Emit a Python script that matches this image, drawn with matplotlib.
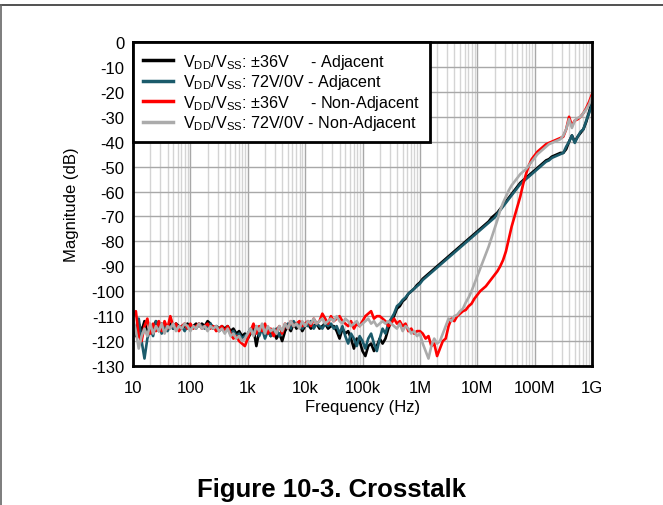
import matplotlib
matplotlib.use('Agg')
import matplotlib.pyplot as plt
from matplotlib.lines import Line2D
from matplotlib.ticker import LogLocator, NullFormatter

plt.rcParams['font.family'] = 'Liberation Sans'
plt.rcParams['mathtext.fontset'] = 'custom'
plt.rcParams['mathtext.rm'] = 'Liberation Sans'

# sweep points, log10(Hz)
log_freq = [
    1.00, 1.05, 1.10, 1.15, 1.20, 1.25, 1.30, 1.35, 1.40, 1.45,
    1.50, 1.55, 1.60, 1.65, 1.70, 1.75, 1.80, 1.85, 1.90, 1.95,
    2.00, 2.05, 2.10, 2.15, 2.20, 2.25, 2.30, 2.35, 2.40, 2.45,
    2.50, 2.55, 2.60, 2.65, 2.70, 2.75, 2.80, 2.85, 2.90, 2.95,
    3.00, 3.05, 3.10, 3.15, 3.20, 3.25, 3.30, 3.35, 3.40, 3.45,
    3.50, 3.55, 3.60, 3.65, 3.70, 3.75, 3.80, 3.85, 3.90, 3.95,
    4.00, 4.05, 4.10, 4.15, 4.20, 4.25, 4.30, 4.35, 4.40, 4.45,
    4.50, 4.55, 4.60, 4.65, 4.70, 4.75, 4.80, 4.85, 4.90, 4.95,
    5.00, 5.05, 5.10, 5.15, 5.20, 5.25, 5.30, 5.35, 5.40, 5.45,
    5.50, 5.55, 5.60, 5.65, 5.70, 5.75, 5.80, 5.85, 5.90, 5.95,
    6.00, 6.05, 6.10, 6.15, 6.20, 6.25, 6.30, 6.35, 6.40, 6.45,
    6.50, 6.55, 6.60, 6.65, 6.70, 6.75, 6.80, 6.85, 6.90, 6.95,
    7.00, 7.05, 7.10, 7.15, 7.20, 7.25, 7.30, 7.35, 7.40, 7.45,
    7.50, 7.55, 7.60, 7.65, 7.70, 7.75, 7.80, 7.85, 7.90, 7.95,
    8.00, 8.05, 8.10, 8.15, 8.20, 8.25, 8.30, 8.35, 8.40, 8.45,
    8.50, 8.55, 8.60, 8.65, 8.70, 8.75, 8.80, 8.85, 8.90, 8.95,
    9.00]

adj_36 = [
    -112, -118, -113, -116, -112, -117, -114, -115, -112, -116,
    -113, -115, -114, -113, -115, -113, -114, -115, -114, -113,
    -115, -114, -113, -114, -113, -114, -112, -113, -115, -114,
    -115, -114, -115, -114, -116, -115, -117, -116, -118, -117,
    -119, -117, -115, -122, -116, -114, -117, -115, -118, -116,
    -119, -117, -120, -116, -114, -116, -113, -115, -113, -116,
    -114, -113, -115, -114, -113, -115, -114, -113, -115, -114,
    -114, -116, -119, -115, -117, -116, -119, -123, -119, -120,
    -124, -126, -122, -121, -124, -122, -119, -121, -119, -115,
    -112, -110, -107, -106, -104, -103, -101, -100, -99, -97.5,
    -96.5, -95, -94, -93, -92, -91, -90, -89, -88, -87,
    -86, -85, -84, -83, -82, -81, -80, -79, -78, -77,
    -76, -75, -74, -73, -72, -70.5, -69.5, -68.5, -67, -65.5,
    -64, -62.5, -61, -59.5, -58, -56.5, -55.5, -54.5, -53.5, -52.5,
    -51.5, -50.5, -49.5, -48.5, -47.5, -47, -46, -45.5, -45, -44.5,
    -44.5, -43, -40, -37.5, -40, -38, -36.5, -35, -32, -28,
    -24]

adj_72 = [
    -112, -116, -111, -120, -127, -119, -115, -118, -112, -113,
    -117, -114, -116, -114, -115, -113, -115, -114, -116, -114,
    -115, -114, -115, -113, -114, -115, -114, -113, -115, -114,
    -116, -115, -116, -115, -117, -116, -118, -117, -119, -118,
    -117, -115, -117, -114, -118, -115, -119, -116, -118, -117,
    -115, -118, -116, -114, -113, -115, -112, -114, -113, -115,
    -113, -114, -112, -115, -113, -114, -115, -113, -114, -113,
    -115, -114, -117, -114, -118, -121, -117, -119, -122, -118,
    -120, -123, -119, -117, -121, -124, -119, -115, -117, -113,
    -111, -109, -106, -105, -103.5, -102.5, -101, -100, -99, -98,
    -97, -95.5, -94.5, -93.5, -92.5, -91.5, -90.5, -89.5, -88.5, -87.5,
    -86.5, -85.5, -84.5, -83.5, -82.5, -81.5, -80.5, -79.5, -78.5, -77.5,
    -76.5, -75.5, -74.5, -73.5, -72.5, -71.5, -70.5, -69, -67.5, -66,
    -64.5, -63, -61.5, -60, -58.5, -57, -56, -55, -54, -53,
    -52, -51, -50, -49, -48, -47.5, -46.5, -46, -45.5, -45,
    -44.5, -42, -40, -37.5, -40.5, -38, -36, -35, -31.5, -28.5,
    -25]

nonadj_36 = [
    -110, -108, -118, -120, -114, -111, -117, -113, -116, -112,
    -116, -112, -115, -110, -114, -113, -116, -114, -113, -115,
    -113, -115, -114, -113, -115, -114, -113, -115, -114, -116,
    -115, -114, -116, -114, -117, -119, -118, -120, -121, -122,
    -119, -116, -113, -117, -114, -116, -113, -117, -115, -118,
    -116, -114, -117, -113, -115, -112, -114, -113, -112, -114,
    -113, -112, -114, -111, -113, -112, -109, -111, -113, -110,
    -112, -111, -110, -112, -113, -114, -112, -115, -113, -114,
    -112, -110, -109, -108, -111, -110, -110, -111, -112, -114,
    -113, -111, -113, -112, -114, -113, -116, -115, -117, -116,
    -116, -117, -119, -118, -122, -121, -126, -123, -120, -119,
    -114, -111, -112, -110, -109, -108, -107.5, -106, -105, -103,
    -101.5, -100, -99, -98, -96.5, -95, -93.5, -92, -90, -87.5,
    -84, -79, -74, -70, -66, -62, -57, -53, -49.5, -47,
    -45.5, -44, -43, -42, -41, -40.5, -40, -39.5, -39, -38.5,
    -38, -35, -30, -33.5, -31.5, -31, -30, -28.5, -26.5, -24,
    -21]

nonadj_72 = [
    -111, -116, -123, -118, -115, -118, -113, -117, -114, -116,
    -113, -117, -114, -115, -113, -116, -114, -115, -113, -114,
    -116, -114, -115, -113, -115, -114, -116, -114, -115, -114,
    -116, -115, -117, -115, -118, -117, -119, -118, -120, -119,
    -117, -115, -118, -114, -116, -113, -117, -114, -116, -115,
    -117, -114, -116, -113, -115, -112, -114, -113, -115, -112,
    -114, -112, -113, -111, -113, -112, -111, -113, -112, -111,
    -112, -110, -112, -113, -111, -112, -114, -113, -112, -114,
    -113, -112, -111, -113, -112, -114, -113, -112, -113, -112,
    -113, -114, -115, -113, -116, -114, -115, -117, -116, -118,
    -117, -121, -124, -127, -122, -119, -121, -120, -117, -114,
    -111, -112, -110, -109.5, -108, -107, -104.5, -102.5, -100, -97,
    -94, -91, -88, -85, -82, -78.5, -75, -71.5, -67.5, -64.5,
    -62, -59.5, -57.5, -56, -54.5, -53, -52, -51, -49.5, -48,
    -46.5, -45, -44, -43, -42, -41, -40.5, -40, -39.5, -39,
    -37.5, -35, -31, -34.5, -31.5, -30.5, -30, -28.5, -27, -25,
    -22]

series = [
    (adj_36, '#000000', r'V$_{\mathregular{DD}}$/V$_{\mathregular{SS}}$: ±36V     - Adjacent'),
    (adj_72, '#1b5b6b', r'V$_{\mathregular{DD}}$/V$_{\mathregular{SS}}$: 72V/0V - Adjacent'),
    (nonadj_36, '#ff0000', r'V$_{\mathregular{DD}}$/V$_{\mathregular{SS}}$: ±36V     - Non-Adjacent'),
    (nonadj_72, '#ababab', r'V$_{\mathregular{DD}}$/V$_{\mathregular{SS}}$: 72V/0V - Non-Adjacent'),
]

x_ticks = [1e1, 1e2, 1e3, 1e4, 1e5, 1e6, 1e7, 1e8, 1e9]
x_labels = ['10', '100', '1k', '10k', '100k', '1M', '10M', '100M', '1G']
y_ticks = [0, -10, -20, -30, -40, -50, -60, -70, -80, -90, -100, -110, -120, -130]
y_labels = ['0', '-10', '-20', '-30', '-40', '-50', '-60', '-70', '-80', '-90',
            '-100', '-110', '-120', '-130']

freq = [10 ** e for e in log_freq]

fig = plt.figure(figsize=(6.63, 5.06), dpi=100)
ax = fig.add_axes([133 / 663, 1 - 367 / 506, 459 / 663, 324 / 506])

for vals, col, lab in series:
    ax.plot(freq, vals, color=col, lw=1.9, label=lab)

ax.set_xscale('log')
ax.set_xlim(1e1, 1e9)
ax.set_ylim(-130, 0)
ax.set_xticks(x_ticks)
ax.set_xticklabels(x_labels)
ax.xaxis.set_minor_locator(LogLocator(base=10, subs=range(2, 10), numticks=20))
ax.xaxis.set_minor_formatter(NullFormatter())
ax.set_yticks(y_ticks)
ax.set_yticklabels(y_labels)
ax.tick_params(which='both', length=0, labelsize=12)
ax.tick_params(axis='x', pad=10)
ax.tick_params(axis='y', pad=6)
ax.grid(which='major', color='#a8a8a8', lw=1)
ax.grid(which='minor', axis='x', color='#d4d4d4', lw=1)
ax.set_axisbelow(True)
for sp in ax.spines.values():
    sp.set_linewidth(2)

ax.set_xlabel('Frequency (Hz)', fontsize=12, labelpad=3)
ax.set_ylabel('Magnitude (dB)', fontsize=12, labelpad=9)

leg = ax.legend(loc='upper left', bbox_to_anchor=(0, 1), borderaxespad=0,
                fontsize=11.6, fancybox=False, framealpha=1, edgecolor='black',
                handlelength=1.9, handletextpad=0.6, labelspacing=0.1,
                borderpad=0.6)
leg.get_frame().set_linewidth(2)
for h in leg.get_lines():
    h.set_linewidth(2.5)

fig.text(0.5, 1 - 490 / 506, 'Figure 10-3. Crosstalk', fontsize=18.5,
         fontweight='bold', ha='center', va='center')

# page frame
fig.add_artist(Line2D([0, 1], [1 - 6 / 506, 1 - 6 / 506], color='#333333', lw=1.2))
fig.add_artist(Line2D([0.5 / 663, 0.5 / 663], [0, 1 - 6 / 506], color='#666666', lw=1.2))

fig.savefig('out.png', dpi=100)
